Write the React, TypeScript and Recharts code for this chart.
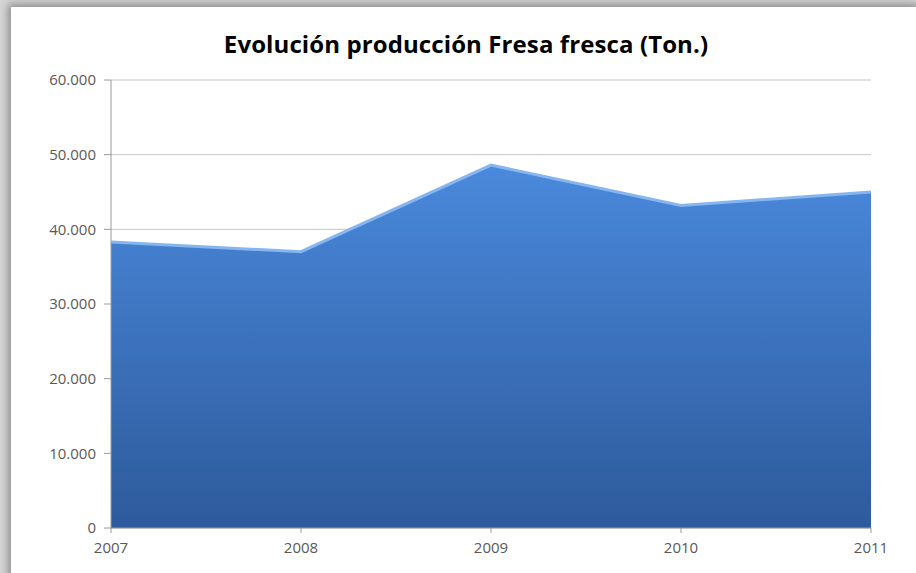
import { AreaChart, Area, XAxis, YAxis, CartesianGrid } from "recharts";

const years = ["2007", "2008", "2009", "2010", "2011"];
const production = [38300, 37000, 48600, 43200, 45000];
const yTicks = [0, 10000, 20000, 30000, 40000, 50000, 60000];

const data = years.map((year, i) => ({ year, value: production[i] }));

const fmt = (v: number) => (v === 0 ? "0" : v.toLocaleString("de-DE"));

const tickStyle = { fill: "#595959", fontSize: 15, fontFamily: "'Open Sans', sans-serif" };

export default function App() {
  return (
    <div
      style={{
        position: "absolute",
        top: 0,
        left: 0,
        width: 916,
        height: 573,
        overflow: "hidden",
        background: "#d6d6d6",
      }}
    >
      <div
        style={{
          position: "absolute",
          top: 7,
          left: 11,
          width: 905,
          height: 580,
          background: "#fff",
          boxShadow: "0 0 8px 3px rgba(0,0,0,0.35)",
        }}
      />
      <div
        style={{
          position: "absolute",
          top: 27,
          left: 0,
          width: 932,
          textAlign: "center",
          fontFamily: "'Open Sans', sans-serif",
          fontWeight: 700,
          fontSize: 24,
          letterSpacing: 0.1,
          color: "#000",
        }}
      >
        Evolución producción Fresa fresca (Ton.)
      </div>
      <div style={{ position: "absolute", top: 0, left: 0 }}>
        <AreaChart width={916} height={573} data={data} margin={{ top: 80, right: 45, bottom: 15, left: 0 }}>
          <defs>
            <linearGradient id="fill" x1="0" y1="0" x2="0" y2="1">
              <stop offset="0%" stopColor="#4a89dc" />
              <stop offset="100%" stopColor="#2d5a9b" />
            </linearGradient>
          </defs>
          <CartesianGrid vertical={false} stroke="#c4c4c4" />
          <XAxis
            dataKey="year"
            stroke="#9a9a9a"
            tick={tickStyle}
            tickLine={{ stroke: "#9a9a9a" }}
            tickSize={5}
            tickMargin={9}
            height={30}
          />
          <YAxis
            width={111}
            domain={[0, 60000]}
            ticks={yTicks}
            tickFormatter={fmt}
            stroke="#9a9a9a"
            tick={tickStyle}
            tickSize={7}
            tickMargin={8}
          />
          <Area
            type="linear"
            dataKey="value"
            stroke="#86b6f0"
            strokeWidth={3}
            fill="url(#fill)"
            fillOpacity={1}
            isAnimationActive={false}
          />
        </AreaChart>
      </div>
    </div>
  );
}
